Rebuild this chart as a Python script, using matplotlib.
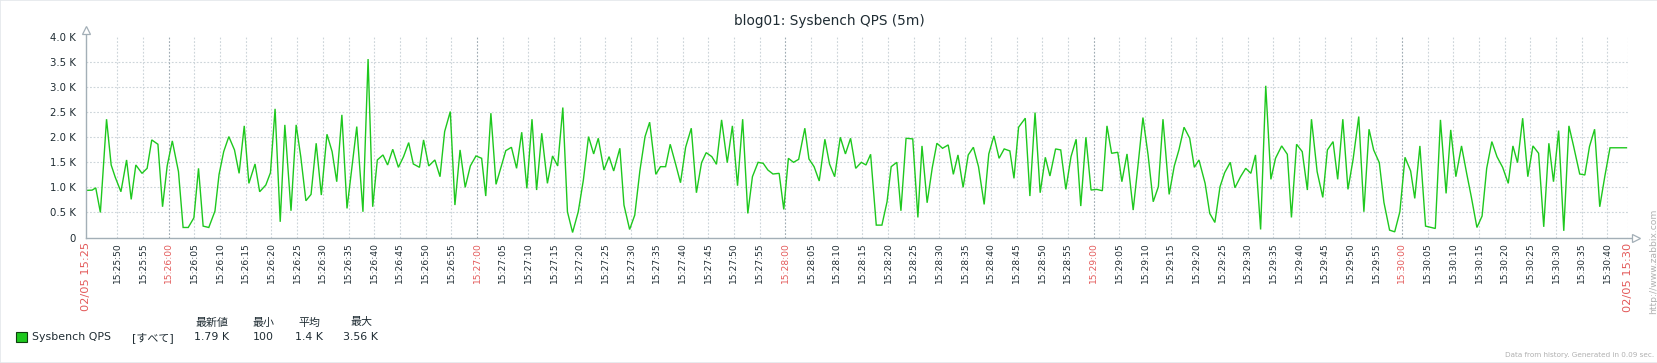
import matplotlib
matplotlib.use('Agg')
import matplotlib.pyplot as plt
from matplotlib.lines import Line2D
from matplotlib.patches import Rectangle
from datetime import datetime, timedelta

# ---------------- data ----------------
# seconds after 02/05 15:25:44 (left edge of the 5 minute window)
sample_time_s = [
    0.0, 1.1, 1.8, 2.7, 3.9, 4.8, 5.6, 6.7, 7.8, 8.7, 9.6, 10.8, 11.8, 12.7, 13.9,
    14.8, 15.7, 16.7, 17.9, 18.8, 19.8, 20.9, 21.8, 22.7, 23.8, 25.0, 25.8, 26.7,
    27.7, 28.8, 29.7, 30.7, 31.6, 32.8, 33.7, 34.9, 35.8, 36.7, 37.7, 38.6, 39.8,
    40.8, 41.7, 42.7, 43.7, 44.7, 45.7, 46.8, 47.8, 48.7, 49.7, 50.7, 51.6, 52.6,
    53.8, 54.8, 55.7, 56.6, 57.7, 58.6, 59.6, 60.7, 61.7, 62.7, 63.6, 64.8, 65.6,
    66.6, 67.8, 68.8, 69.7, 70.8, 71.7, 72.7, 73.7, 74.7, 75.8, 76.9, 77.7, 78.7,
    79.7, 80.7, 81.6, 82.7, 83.7, 84.7, 85.7, 86.7, 87.6, 88.6, 89.7, 90.7, 91.7,
    92.7, 93.6, 94.6, 95.7, 96.7, 97.7, 98.7, 99.6, 100.7, 101.7, 102.6, 103.8,
    104.6, 105.7, 106.7, 107.7, 108.7, 109.6, 110.8, 111.7, 112.7, 113.6, 114.7,
    115.6, 116.6, 117.7, 118.7, 119.7, 120.6, 121.7, 122.6, 123.6, 124.7, 125.7,
    126.7, 127.7, 128.7, 129.6, 130.7, 131.7, 132.6, 133.6, 134.8, 135.7, 136.6,
    137.6, 138.6, 139.8, 140.6, 141.6, 142.6, 143.7, 144.6, 145.6, 146.7, 147.7,
    148.7, 149.7, 150.8, 151.7, 152.6, 153.7, 154.8, 155.8, 156.6, 157.7, 158.5,
    159.5, 160.8, 161.8, 162.6, 163.6, 164.6, 165.5, 166.6, 167.7, 168.7, 169.6,
    170.6, 171.6, 172.6, 173.6, 174.7, 175.6, 176.6, 177.6, 178.6, 179.7, 180.5,
    181.4, 182.7, 183.6, 184.6, 185.6, 186.6, 187.5, 188.6, 189.6, 190.6, 191.6,
    192.6, 193.5, 194.5, 195.5, 196.6, 197.7, 198.6, 199.5, 200.7, 201.5, 202.5,
    203.7, 204.6, 205.6, 206.6, 207.6, 208.6, 209.5, 210.7, 211.7, 212.6, 213.6,
    214.7, 215.6, 216.5, 217.7, 218.6, 219.6, 220.6, 221.5, 222.6, 223.5, 224.6,
    225.6, 226.6, 227.5, 228.5, 229.5, 230.5, 231.4, 232.6, 233.7, 234.5, 235.5,
    236.6, 237.6, 238.4, 239.5, 240.6, 241.5, 242.6, 243.5, 244.5, 245.5, 246.5,
    247.6, 248.6, 249.6, 250.5, 251.6, 252.5, 253.6, 254.6, 255.6, 256.6, 257.7,
    258.5, 259.5, 260.6, 262.5, 263.5, 264.6, 265.5, 266.5, 267.6, 268.6, 269.5,
    270.6, 271.6, 272.5, 273.5, 274.5, 275.6, 276.7, 277.6, 278.5, 279.5, 280.5,
    281.5, 282.6, 283.6, 284.6, 285.5, 286.5, 287.5, 288.5, 289.4, 290.6, 291.6,
    292.5, 293.5, 294.5, 295.5, 296.5, 299.7,
]
qps = [
    940, 945, 990, 500, 2360, 1447, 1200, 913, 1547, 760, 1447, 1280, 1380, 1947, 1860,
    613, 1427, 1927, 1313, 200, 200, 393, 1380, 227, 200, 527, 1260, 1713,
    2013, 1747, 1280, 2227, 1080, 1467, 913, 1047, 1293, 2567, 313, 2247, 533,
    2247, 1613, 733, 860, 1880, 847, 2060, 1713, 1113, 2447, 580, 1347, 2213,
    513, 3560, 613, 1547, 1647, 1447, 1760, 1400, 1613, 1893, 1467, 1400, 1947,
    1427, 1547, 1213, 2113, 2513, 647, 1747, 1000, 1427, 1627, 1580, 827, 2480,
    1060, 1413, 1733, 1800, 1380, 2100, 980, 2360, 947, 2080, 1080, 1627, 1427,
    2593, 513, 100, 513, 1147, 2013, 1667, 1980, 1347, 1613, 1327, 1780,
    647, 160, 447, 1333, 2013, 2300, 1260, 1413, 1413, 1860, 1447,
    1093, 1800, 2180, 893, 1493, 1693, 1613, 1460, 2347, 1493, 2227,
    1033, 2360, 480, 1213, 1500, 1480, 1347, 1267, 1280, 560, 1580,
    1500, 1560, 2180, 1567, 1413, 1127, 1960, 1467, 1213, 2000, 1667,
    1980, 1380, 1500, 1447, 1660, 247, 247, 713, 1413, 1500, 533,
    1980, 1967, 400, 1827, 693, 1393, 1880, 1780, 1847, 1260, 1647,
    1000, 1647, 1800, 1413, 660, 1667, 2027, 1580, 1767, 1727, 1180,
    2200, 2380, 827, 2493, 893, 1600, 1227, 1767, 1747, 960, 1613,
    1960, 627, 2000, 947, 960, 933, 2227, 1680, 1700, 1113, 1667,
    547, 1400, 2393, 1647, 713, 1013, 2360, 860, 1427, 1747, 2200,
    1980, 1400, 1547, 1080, 480, 300, 1013, 1293, 1500, 993, 1213,
    1380, 1280, 1647, 160, 3027, 1160, 1580, 1827, 1660, 400, 1860,
    1713, 947, 2360, 1313, 800, 1747, 1913, 1160, 2360, 960, 1560,
    2413, 513, 2160, 1747, 1493, 700, 147, 113, 513, 1600, 1327,
    780, 1827, 227, 180, 2347, 880, 2147, 1213, 1827, 1280, 813,
    200, 427, 1380, 1913, 1613, 1400, 1080, 1827, 1493, 2380, 1213,
    1827, 1680, 213, 1880, 1113, 2133, 133, 2227, 1827, 1267, 1247,
    1813, 2160, 613, 1227, 1790, 1790,
]
window_start = datetime(2024, 2, 5, 15, 25, 44)
window_len_s = 300
y_ticks = [0, 500, 1000, 1500, 2000, 2500, 3000, 3500, 4000]
y_tick_labels = ["0", "0.5 K", "1.0 K", "1.5 K", "2.0 K", "2.5 K", "3.0 K", "3.5 K", "4.0 K"]
title = "blog01: Sysbench QPS (5m)"
series_name = "Sysbench QPS"
legend_func = "[すべて]"
stat_headers = ["最新値", "最小", "平均", "最大"]
stat_values = ["1.79 K", "100", "1.4 K", "3.56 K"]

# ---------------- styling ----------------
W, H = 1658, 363
TXT = '#1f2c33'
RED = '#e35a5a'
AXC = '#a3afb7'
GRID = '#cdd5da'
GRID_MIN = '#9fabb3'
GREEN = '#1ec81e'

fig = plt.figure(figsize=(W / 100, H / 100), dpi=100)
fig.patch.set_facecolor('white')
L, R, T, B = 86.5, 1628, 37, 237.5
ax = fig.add_axes([L / W, 1 - B / H, (R - L) / W, (B - T) / H])
ax.set_facecolor('white')
ax.set_xlim(0, window_len_s)
ax.set_ylim(0, 4000)
for s in ax.spines.values():
    s.set_visible(False)

dash = (0, (1.6, 1.6))
# horizontal grid
for yv in y_ticks[1:-1]:
    ax.axhline(yv, color=GRID, lw=0.8, ls=dash, zorder=1)

# x ticks every 5 s
tick_t = [0] + list(range(6, window_len_s, 5)) + [window_len_s]
tick_lab = []
tick_col = []
tick_size = []
for t in tick_t:
    dt = window_start + timedelta(seconds=t)
    if t == 0 or t == window_len_s:
        tick_lab.append(dt.strftime('%m/%d %H:%M'))
        tick_col.append(RED)
        tick_size.append(8.2)
    else:
        tick_lab.append(dt.strftime('%H:%M:%S'))
        tick_col.append(RED if dt.second == 0 else TXT)
        tick_size.append(6.6)
    if t > 0:
        minute = (dt.second == 0 and t != window_len_s)
        ax.axvline(t, color=GRID_MIN if minute else GRID, lw=0.8, ls=dash, zorder=1)

ax.set_xticks(tick_t)
ax.set_xticklabels(tick_lab, rotation=90, fontsize=6.6, family='DejaVu Sans')
for lab, c, fs in zip(ax.get_xticklabels(), tick_col, tick_size):
    lab.set_color(c)
    lab.set_fontsize(fs)
ax.tick_params(axis='x', length=0, pad=3.5)
ax.set_yticks(y_ticks)
ax.set_yticklabels(y_tick_labels, fontsize=7.3, color=TXT, family='DejaVu Sans')
ax.tick_params(axis='y', length=0, pad=7.5)

# data line
ax.plot(sample_time_s, qps, color=GREEN, lw=1.0, zorder=3, solid_joinstyle='miter')

# axes lines with arrows
ytop_ax = (B - 32) / (B - T)
ax.add_line(Line2D([0, 0], [0, ytop_ax], transform=ax.transAxes, color=AXC, lw=1.0, clip_on=False, zorder=4))
xr_ax = (1633 - L) / (R - L)
ax.add_line(Line2D([0, xr_ax], [0, 0], transform=ax.transAxes, color=AXC, lw=1.0, clip_on=False, zorder=4))
ax.plot([0], [(B - 30) / (B - T)], transform=ax.transAxes, marker='^', ms=5.5,
        mfc='white', mec=AXC, mew=0.9, clip_on=False, zorder=5)
ax.plot([(1636 - L) / (R - L)], [0], transform=ax.transAxes, marker='>', ms=5.5,
        mfc='white', mec=AXC, mew=0.9, clip_on=False, zorder=5)

def fx(x):
    return x / W

def fy(y):
    return 1 - y / H

# title
fig.text(fx(829), fy(20.5), title, ha='center', va='center', fontsize=9.8, color=TXT,
         family='DejaVu Sans')

# legend
fig.patches.append(Rectangle((fx(16), fy(342)), 11 / W, 10.5 / H, transform=fig.transFigure,
                             facecolor=GREEN, edgecolor='#0f3f0f', lw=0.8))
fig.text(fx(32.3), fy(337.3), series_name, ha='left', va='center', fontsize=7.9, color=TXT,
         family='DejaVu Sans')
fig.text(fx(152.5), fy(337.3), legend_func, ha='center', va='center', fontsize=7.9, color=TXT,
         family=['DejaVu Sans', 'Noto Sans CJK JP'])
col_x = [212, 263.5, 309.5, 361]
for cx, hd, vv in zip(col_x, stat_headers, stat_values):
    fig.text(fx(cx), fy(322.5), hd, ha='center', va='center', fontsize=7.9, color=TXT,
             family=['Noto Sans CJK JP', 'DejaVu Sans'])
    fig.text(fx(cx), fy(337.3), vv, ha='center', va='center', fontsize=7.9, color=TXT,
             family='DejaVu Sans')

# side / footer texts
fig.text(fx(1654), fy(314), "http://www.zabbix.com", rotation=90, ha='center', va='bottom',
         fontsize=6.6, color='#b0b0b0', family='DejaVu Sans')
fig.text(fx(1654), fy(355), "Data from history. Generated in 0.09 sec.", ha='right',
         va='center', fontsize=5.2, color='#b0b0b0', family='DejaVu Sans')

# thin outer border
fig.patches.append(Rectangle((0, 0), 1, 1, transform=fig.transFigure, fill=False,
                             edgecolor='#e4e8eb', lw=1.2))

fig.savefig('out.png', dpi=100, facecolor='white')
